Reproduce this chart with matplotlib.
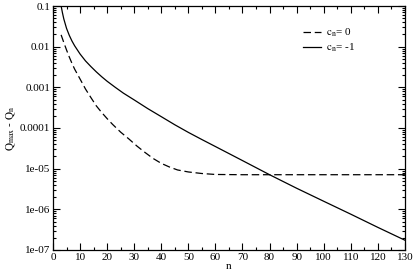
import matplotlib
matplotlib.use('Agg')
import matplotlib.pyplot as plt
from matplotlib.ticker import MultipleLocator, LogLocator, NullFormatter

# values (log axis)
n_cn1 = [3, 3.5, 4, 5, 6, 7, 8, 10, 12, 14, 16, 18, 20, 23, 26, 30, 35, 40, 45,
         50, 55, 60, 70, 80, 90, 100, 110, 120, 130]
q_cn1 = [0.1, 0.0676, 0.0479, 0.0282, 0.0191, 0.0138, 0.0105, 0.0066, 0.00447,
         0.00324, 0.0024, 0.00182, 0.00141, 0.001, 7.2e-4, 4.9e-4, 3.0e-4, 1.9e-4,
         1.2e-4, 7.8e-5, 5.2e-5, 3.5e-5, 1.58e-5, 7.1e-6, 3.3e-6, 1.58e-6, 7.6e-7,
         3.6e-7, 1.74e-7]

n_cn0 = [3, 4, 5, 6, 7, 8, 10, 12, 14, 16, 18, 20, 22, 25, 28, 31, 34, 37, 40,
         43, 46, 50, 55, 60, 70, 130]
q_cn0 = [0.0195, 0.0126, 0.0083, 0.0056, 0.0039, 0.0028, 0.0016, 9.1e-4, 5.6e-4,
         3.5e-4, 2.4e-4, 1.7e-4, 1.23e-4, 7.9e-5, 5.4e-5, 3.6e-5, 2.5e-5, 1.78e-5,
         1.35e-5, 1.1e-5, 9.3e-6, 8.3e-6, 7.6e-6, 7.2e-6, 7.1e-6, 7.1e-6]

yticks = [1e-1, 1e-2, 1e-3, 1e-4, 1e-5, 1e-6, 1e-7]
ylabels = ['0.1', '0.01', '0.001', '0.0001', '1e-05', '1e-06', '1e-07']

plt.rcParams['font.family'] = 'Liberation Serif'
plt.rcParams['mathtext.fontset'] = 'stix'

fig = plt.figure(figsize=(4.15, 2.74), dpi=100)
ax = fig.add_axes([0.1277, 0.0876, 0.848, 0.8905])

ax.plot(n_cn0, q_cn0, color='black', lw=0.9, dashes=(6, 3), label=r'$\mathrm{c_n}$= 0')
ax.plot(n_cn1, q_cn1, color='black', lw=0.9, label=r'$\mathrm{c_n}$= -1')

ax.set_yscale('log')
ax.set_xlim(0, 130)
ax.set_ylim(1e-7, 0.1)
ax.set_yticks(yticks)
ax.set_yticklabels(ylabels)
ax.yaxis.set_minor_locator(LogLocator(base=10, subs=range(2, 10)))
ax.yaxis.set_minor_formatter(NullFormatter())
ax.xaxis.set_major_locator(MultipleLocator(10))
ax.xaxis.set_minor_locator(MultipleLocator(5))

ax.tick_params(which='both', direction='in', top=True, right=True, labelsize=8, pad=2)
ax.tick_params(which='major', length=5, width=0.8)
ax.tick_params(which='minor', length=2.5, width=0.8)
for s in ax.spines.values():
    s.set_linewidth(0.9)

ax.set_xlabel('n', fontsize=8, labelpad=0)
ax.set_ylabel(r'$\mathrm{Q_{max}}$ - $\mathrm{Q_n}$', fontsize=8, labelpad=1)

ax.legend(loc='upper left', bbox_to_anchor=(0.71, 0.915), frameon=False, fontsize=8,
          borderpad=0, borderaxespad=0, handlelength=1.6, handletextpad=0.5,
          labelspacing=0.2)

fig.savefig('out.png', dpi=100)
